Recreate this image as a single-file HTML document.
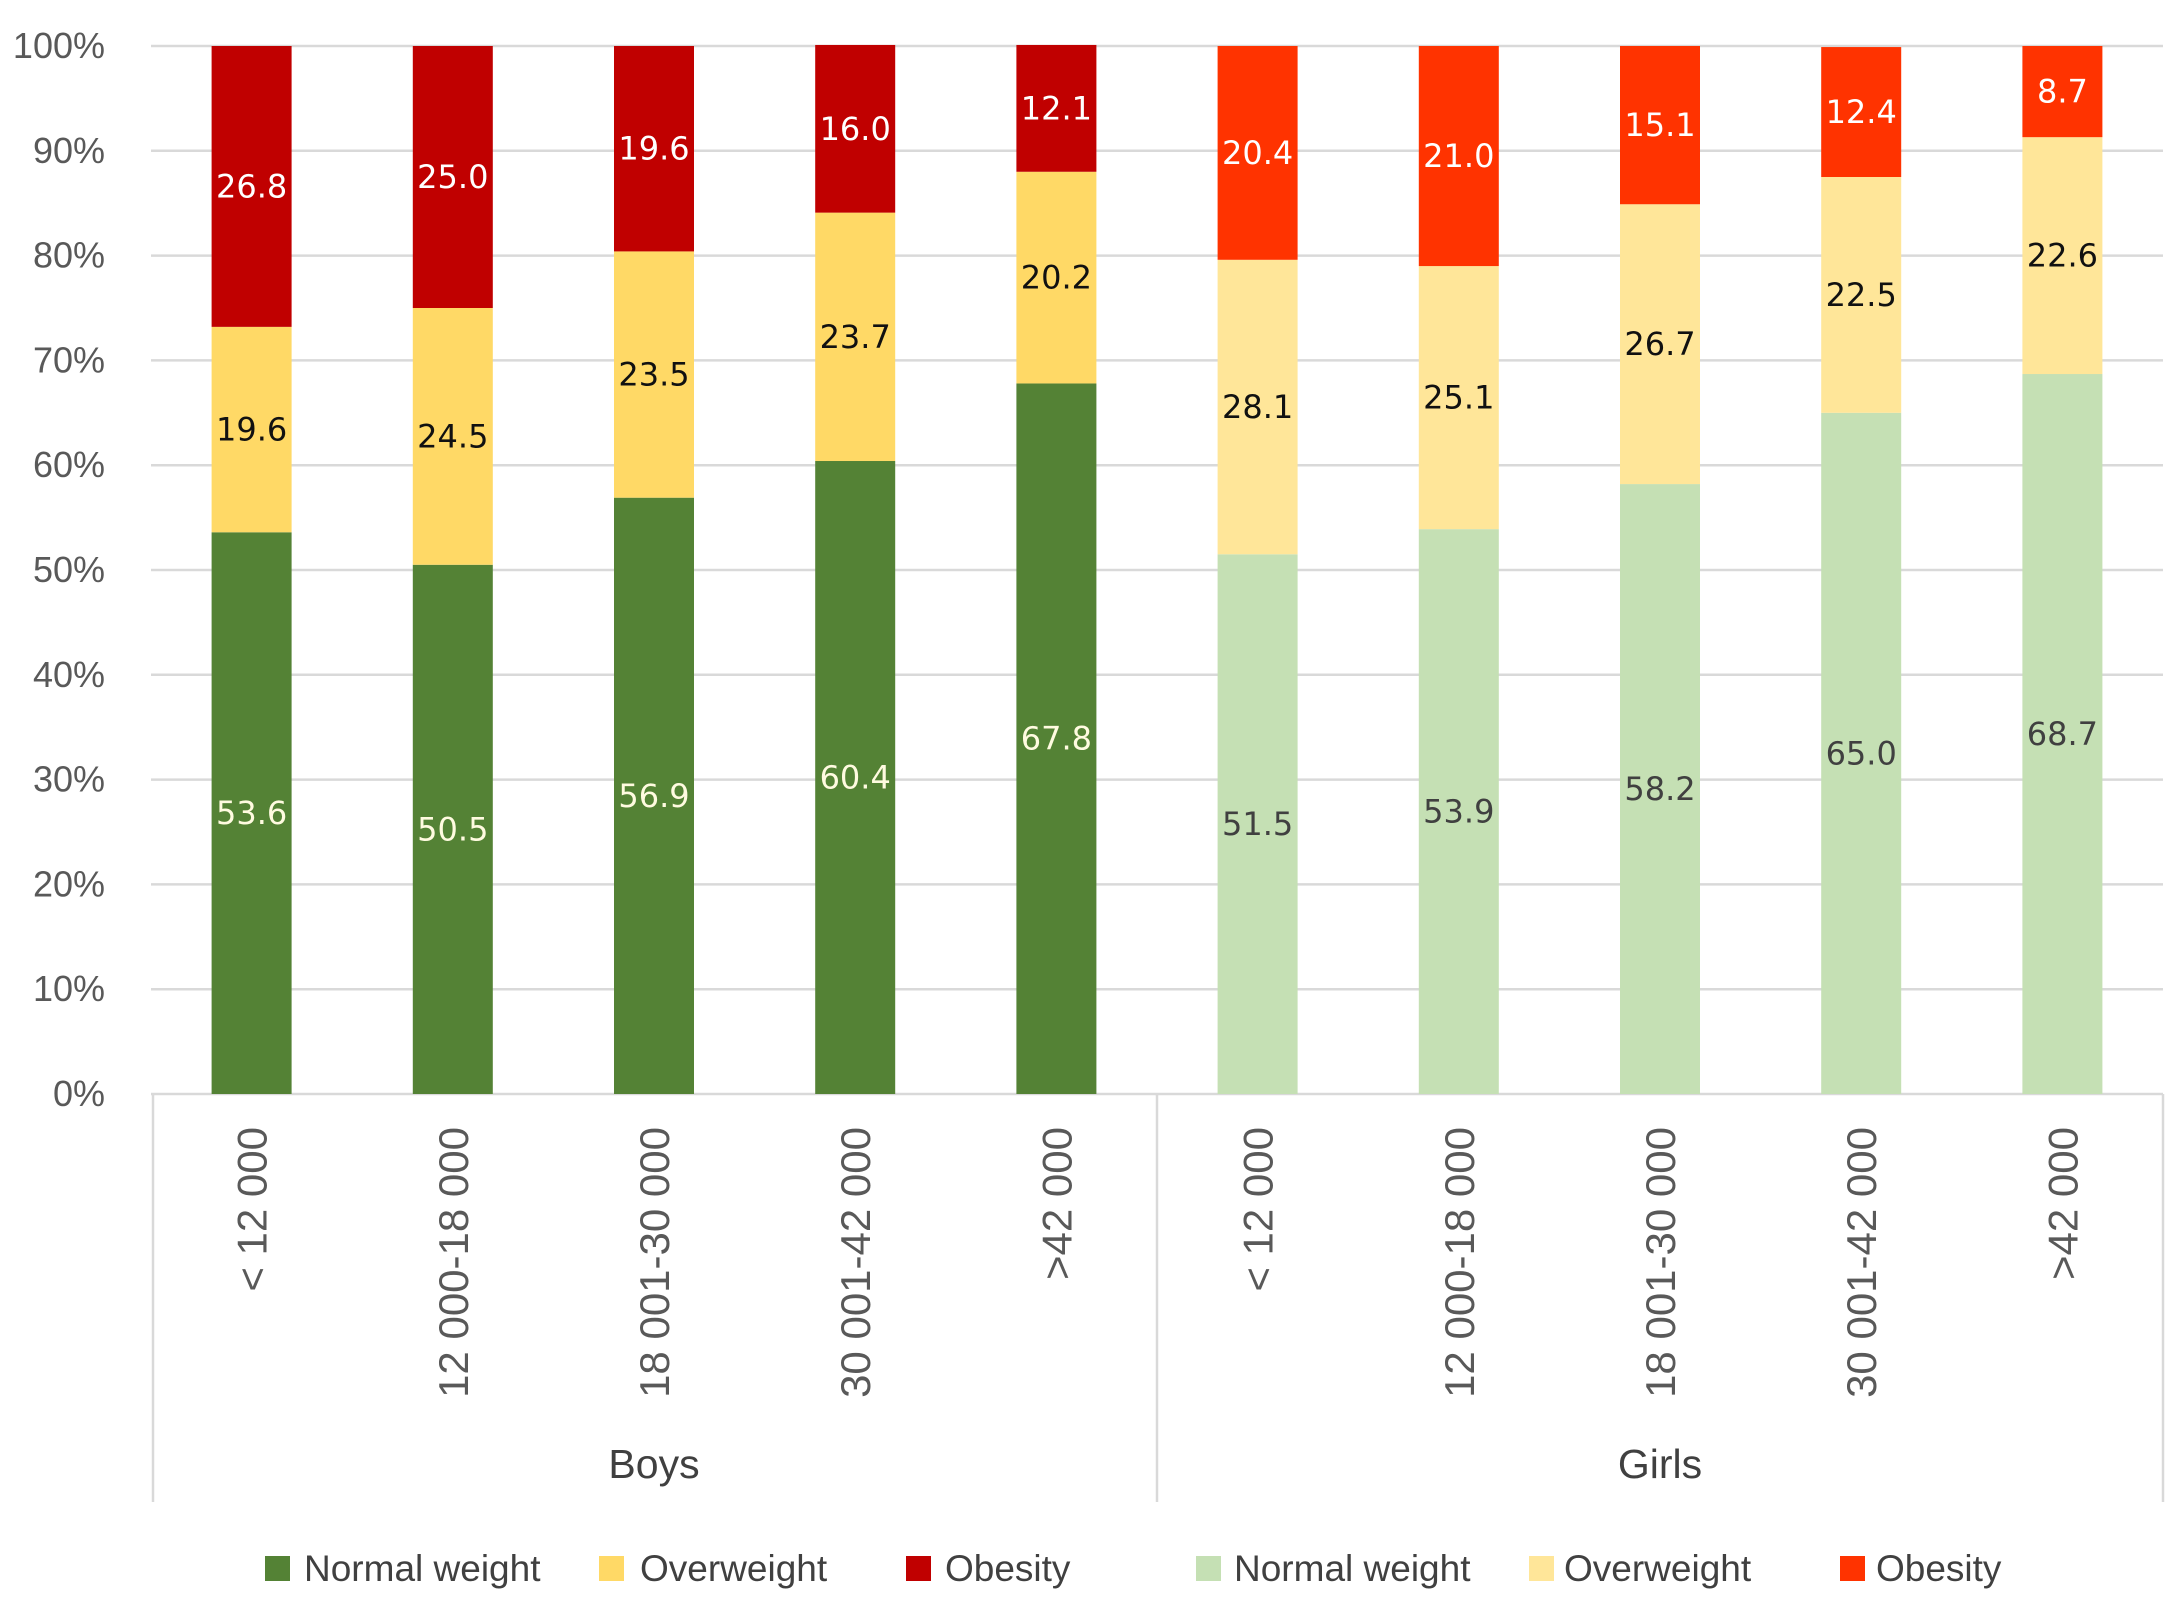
<!DOCTYPE html>
<html><head><meta charset="utf-8"><style>
html,body{margin:0;padding:0;background:#fff;}
svg{display:block;}
</style></head><body>
<svg id="chart" width="2175" height="1600" viewBox="0 0 2175 1600" xmlns="http://www.w3.org/2000/svg"></svg>
<script>
const categories = ["< 12 000","12 000-18 000","18 001-30 000","30 001-42 000",">42 000"];
const groups = ["Boys","Girls"];
const boysNormal = [53.6,50.5,56.9,60.4,67.8];
const boysOver = [19.6,24.5,23.5,23.7,20.2];
const boysObese = [26.8,25.0,19.6,16.0,12.1];
const girlsNormal = [51.5,53.9,58.2,65.0,68.7];
const girlsOver = [28.1,25.1,26.7,22.5,22.6];
const girlsObese = [20.4,21.0,15.1,12.4,8.7];
const yTicks = [0,10,20,30,40,50,60,70,80,90,100];
const legendLabels = ["Normal weight","Overweight","Obesity"];

const NS="http://www.w3.org/2000/svg";
const svg=document.getElementById('chart');
const L=151,R=2163,T=46,B=1094;
const y=v=>B-(v/100)*(B-T);
const nCat=10, step=(R-L)/nCat, bw=80;
const x=i=>L+step/2+i*step;
function mk(tag,attrs,parent){const e=document.createElementNS(NS,tag);for(const k in attrs)e.setAttribute(k,attrs[k]);(parent||svg).appendChild(e);return e;}

yTicks.forEach(t=>{
  const g=mk('line',{x1:L,x2:R,y1:y(t),y2:y(t),stroke:'#d9d9d9','stroke-width':2.5});
  
  
  const tx=mk('text',{x:105,y:y(t)+12,'text-anchor':'end','font-family':'Liberation Sans, sans-serif','font-size':36,fill:'#595959'});
  tx.textContent=t+'%';
  
  
});

const series=[
  {vals:[boysNormal,girlsNormal],colors:['#548235','#c5e0b4'],lab:['#fffbe0','#404040'],name:'normal'},
  {vals:[boysOver,girlsOver],colors:['#ffd966','#ffe699'],lab:['#111','#111'],name:'overweight'},
  {vals:[boysObese,girlsObese],colors:['#c00000','#ff3300'],lab:['#fff','#fff'],name:'obesity'}
];
for(let g=0;g<2;g++){
  for(let c=0;c<5;c++){
    const idx=g*5+c;let base=0;
    series.forEach(s=>{
      const v=s.vals[g][c];
      const r=mk('rect',{x:x(idx)-bw/2,y:y(base+v),width:bw,height:y(base)-y(base+v),fill:s.colors[g]});
      
      
      const t=mk('text',{x:x(idx),y:y(base+v/2)+11,'text-anchor':'middle','font-family':'DejaVu Sans, sans-serif','font-size':32,fill:s.lab[g]});
      t.textContent=v.toFixed(1);
      
      
      base+=v;
    });
    const ct=mk('text',{transform:`translate(${x(idx)+15},1127) rotate(-90)`,'text-anchor':'end','font-family':'Liberation Sans, sans-serif','font-size':42,fill:'#595959'});
    ct.textContent=categories[c];
    
    
  }
}
[L+2,(L+R)/2,R].forEach(xx=>{
  const l=mk('line',{x1:xx,x2:xx,y1:B,y2:1502,stroke:'#d9d9d9','stroke-width':2.5});
  
  
});
groups.forEach((gn,g)=>{
  const t=mk('text',{x:(x(g*5)+x(g*5+4))/2,y:1478,'text-anchor':'middle','font-family':'Liberation Sans, sans-serif','font-size':41,fill:'#404040'});
  t.textContent=gn;
  
  
});
const legSq=[265,599,906,1196,1529,1840];
const legTx=[304,640,945,1234,1564,1876];
for(let g=0;g<2;g++){
  for(let s=0;s<3;s++){
    const i=g*3+s;
    const sq=mk('rect',{x:legSq[i],y:1556,width:25,height:25,fill:series[s].colors[g]});
    
    
    const t=mk('text',{x:legTx[i],y:1581,'font-family':'Liberation Sans, sans-serif','font-size':37,fill:'#404040'});
    t.textContent=legendLabels[s];
    
    
  }
}
</script>
</body></html>
